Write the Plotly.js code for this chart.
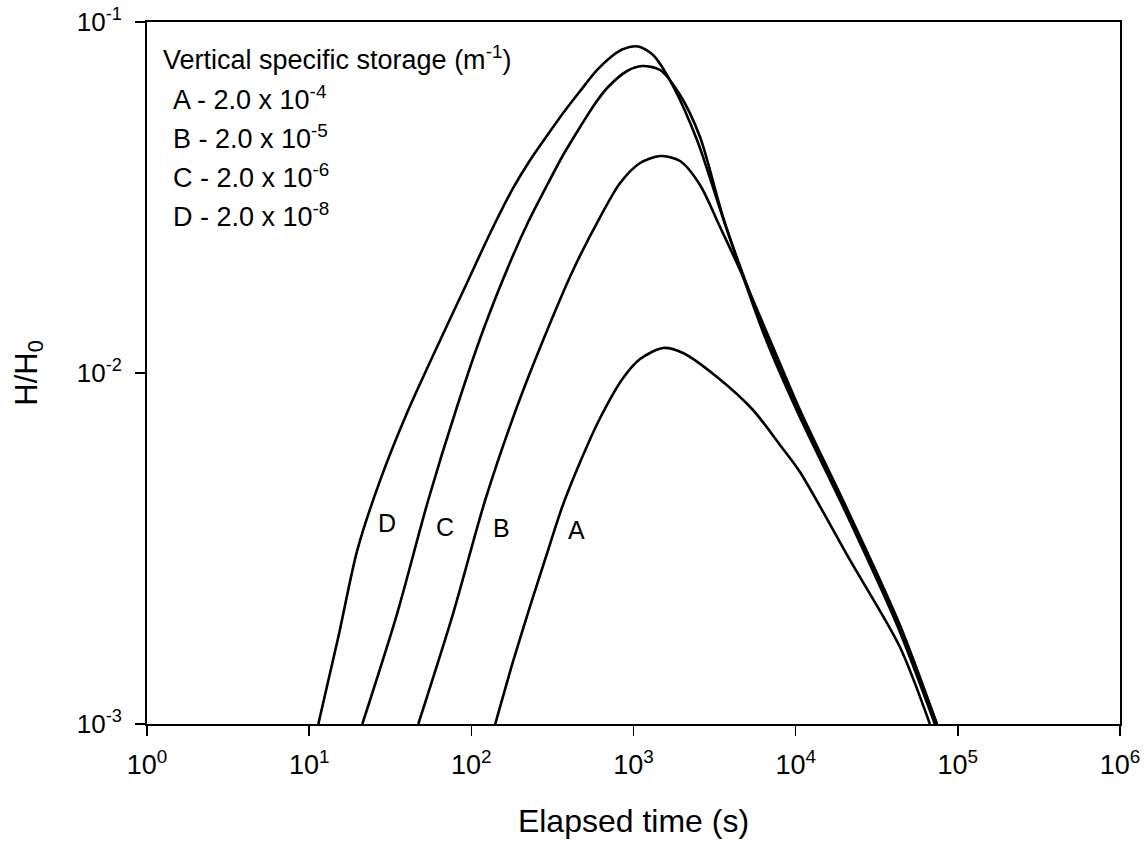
<!DOCTYPE html>
<html>
<head>
<meta charset="utf-8">
<script src="https://cdn.plot.ly/plotly-3.0.1.min.js"></script>
<style>html,body{margin:0;padding:0;background:#fff;}#chart{width:1147px;height:844px;}</style>
</head>
<body>
<div id="chart"></div>
<script>
// Elapsed time (s) and H/H0 for each vertical specific storage case
const tA = [140.4, 181.2, 230.6, 293.5, 363.2, 468.8, 622.6, 862.8, 1098, 1522, 2021, 3274, 5456, 8003, 10630, 21600, 43920, 67220];
const hA = [0.001, 0.001512, 0.002169, 0.00307, 0.004152, 0.005577, 0.007444, 0.009677, 0.010962, 0.011782, 0.011402, 0.009741, 0.007845, 0.006236, 0.005224, 0.002933, 0.001657, 0.001];

const tB = [47.08, 77.36, 121.8, 191.0, 277.3, 424.5, 622.6, 826.9, 1098, 1458, 1937, 2572, 3416, 4538, 6945, 10630, 21600, 43920, 74240];
const hB = [0.001, 0.002071, 0.004347, 0.0080, 0.01242, 0.01966, 0.02782, 0.03478, 0.03966, 0.04152, 0.04018, 0.03433, 0.02606, 0.01966, 0.01242, 0.007845, 0.003939, 0.001914, 0.001];

const tC = [21.27, 34.95, 54.25, 81.52, 118.4, 173.7, 224.2, 293.5, 368.3, 468.8, 571.8, 687.6, 913.2, 1130, 1458, 1937, 2572, 3565, 6469, 10330, 21000, 42690, 72160];
const hC = [0.001, 0.002071, 0.004347, 0.0080, 0.01326, 0.02071, 0.02693, 0.03433, 0.04179, 0.05022, 0.05802, 0.06486, 0.07251, 0.07493, 0.07299, 0.06195, 0.04703, 0.02782, 0.01266, 0.00769, 0.00389, 0.00189, 0.001];

const tD = [11.39, 15.13, 19.81, 27.46, 40.10, 64.33, 93.95, 130.8, 181.2, 230.6, 293.5, 368.3, 468.8, 596.7, 738.2, 850.6, 1067, 1321, 1754, 2465, 3773, 6656, 10630, 21600, 43920, 74240];
const hD = [0.001, 0.00177, 0.00313, 0.00496, 0.00769, 0.01242, 0.01805, 0.02506, 0.03366, 0.04044, 0.04750, 0.05505, 0.0636, 0.0730, 0.0800, 0.08349, 0.0852, 0.08053, 0.0657, 0.0461, 0.02555, 0.01266, 0.00769, 0.00389, 0.00189, 0.001];

const curveNames = ['A', 'B', 'C', 'D'];
const curveLabelT = [443.0, 152.9, 69.07, 30.33];
const curveLabelH = [0.00357, 0.003617, 0.003641, 0.003738];

const legendTitle = 'Vertical specific storage (m<sup>-1</sup>)';
const legendRows = ['A - 2.0 x 10<sup>-4</sup>', 'B - 2.0 x 10<sup>-5</sup>', 'C - 2.0 x 10<sup>-6</sup>', 'D - 2.0 x 10<sup>-8</sup>'];

const xTickVals = [1, 10, 100, 1000, 10000, 100000, 1000000];
const xTickText = ['10<sup>0</sup>', '10<sup>1</sup>', '10<sup>2</sup>', '10<sup>3</sup>', '10<sup>4</sup>', '10<sup>5</sup>', '10<sup>6</sup>'];
const yTickVals = [0.001, 0.01, 0.1];
const yTickText = ['10<sup>-3</sup>', '10<sup>-2</sup>', '10<sup>-1</sup>'];

const FONT = 'Liberation Sans, Arial, sans-serif';
const series = [[tA, hA], [tB, hB], [tC, hC], [tD, hD]];
const traces = series.map((s, i) => ({
  x: s[0], y: s[1], type: 'scatter', mode: 'lines', name: curveNames[i],
  line: {color: '#000', width: 2.6, shape: 'spline', smoothing: 0.8},
  showlegend: false, hoverinfo: 'skip'
}));

const annotations = [];
curveNames.forEach((n, i) => annotations.push({
  x: Math.log10(curveLabelT[i]), y: Math.log10(curveLabelH[i]), xref: 'x', yref: 'y',
  text: n, showarrow: false, font: {family: FONT, size: 25, color: '#000'}
}));
const L = 146.5, W = 973.5, B = 724, H = 702;
const px = v => (v - L) / W, py = v => (B - v) / H;
annotations.push({x: px(161), y: py(58), xref: 'paper', yref: 'paper', xanchor: 'left', yanchor: 'middle',
  text: legendTitle, showarrow: false, font: {family: FONT, size: 27, color: '#000'}});
const rowY = [98, 137, 176, 215];
legendRows.forEach((r, i) => annotations.push({x: px(171), y: py(rowY[i]), xref: 'paper', yref: 'paper',
  xanchor: 'left', yanchor: 'middle', text: r, showarrow: false, font: {family: FONT, size: 27, color: '#000'}}));

const layout = {
  width: 1147, height: 844,
  margin: {l: 146.5, r: 27, t: 22, b: 120},
  paper_bgcolor: '#fff', plot_bgcolor: '#fff',
  font: {family: FONT, color: '#000'},
  xaxis: {
    type: 'log', range: [0, 6], tickvals: xTickVals, ticktext: xTickText,
    ticks: 'outside', ticklen: 10, tickwidth: 1.5, tickcolor: '#000',
    ticklabelstandoff: 6,
    showline: true, linecolor: '#000', linewidth: 2, mirror: true,
    showgrid: false, zeroline: false,
    tickfont: {family: FONT, size: 27, color: '#000'},
    title: {text: 'Elapsed time (s)', font: {family: FONT, size: 32, color: '#000'}, standoff: 30}
  },
  yaxis: {
    type: 'log', range: [-3, -1], tickvals: yTickVals, ticktext: yTickText,
    ticks: 'outside', ticklen: 10, tickwidth: 1.5, tickcolor: '#000',
    ticklabelstandoff: 8,
    showline: true, linecolor: '#000', linewidth: 2, mirror: true,
    showgrid: false, zeroline: false,
    tickfont: {family: FONT, size: 26, color: '#000'},
    title: {text: 'H/H<sub>0</sub>', font: {family: FONT, size: 31, color: '#000'}, standoff: 30}
  },
  annotations: annotations
};

Plotly.newPlot('chart', traces, layout, {displayModeBar: false, staticPlot: true});
</script>
</body>
</html>
